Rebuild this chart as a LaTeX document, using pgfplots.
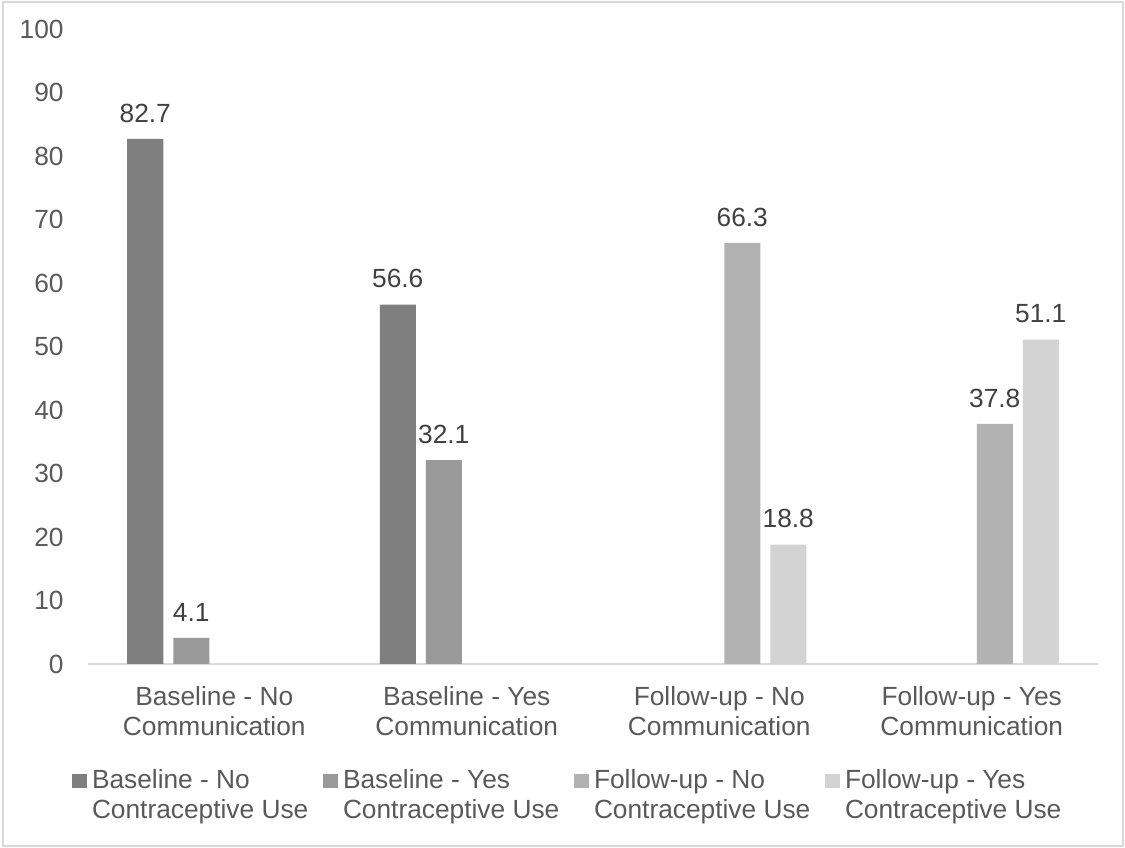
\documentclass[border=0pt]{standalone}
\usepackage{fontspec}
\setmainfont{Liberation Sans}
\usepackage{pgfplots}
\pgfplotsset{compat=1.18}
\definecolor{sA}{HTML}{7F7F7F}
\definecolor{sB}{HTML}{999999}
\definecolor{sC}{HTML}{B2B2B2}
\definecolor{sD}{HTML}{D3D3D3}
\definecolor{framegray}{HTML}{D9D9D9}
\definecolor{ticktext}{HTML}{595959}
\definecolor{labeltext}{HTML}{404040}
\newcommand{\chfont}{\fontsize{13.15bp}{15bp}\selectfont}
\newcommand{\lgentry}[2]{\parbox[t]{115.5bp}{\raggedright #1\\#2}}
\pgfplotsset{sqlegend/.style={legend image code/.code={\fill[##1] (0bp,0.5bp) rectangle (7.5bp,7.5bp);}}}
\begin{document}
\begin{tikzpicture}
\useasboundingbox (0,0) rectangle (562.5bp,424bp);
\draw[color=framegray, line width=1bp] (1.25bp,1.25bp) rectangle (561.25bp,422.75bp);
\begin{axis}[
  at={(44bp,92bp)}, anchor=south west,
  scale only axis, width=505bp, height=317.5bp,
  xmin=-0.5, xmax=3.5, ymin=0, ymax=100,
  ybar=5bp, bar width=18bp,
  axis x line*=bottom, axis y line*=left,
  x axis line style={draw=framegray, line width=1bp, -},
  y axis line style={draw=none},
  xtick={0,1,2,3},
  xticklabels={{Baseline - No\\Communication},{Baseline - Yes\\Communication},{Follow-up - No\\Communication},{Follow-up - Yes\\Communication}},
  xtick style={draw=none}, ytick style={draw=none},
  ytick={0,10,...,100},
  tick label style={font=\chfont, text=ticktext},
  xticklabel style={align=center, anchor=north, inner sep=0pt, yshift=-7bp},
  yticklabel style={anchor=east, inner sep=0pt, xshift=-12bp},
  /pgf/number format/assume math mode=true,
  nodes near coords={\pgfmathprintnumber[fixed,fixed zerofill,precision=1]{\pgfplotspointmeta}},
  every node near coord/.append style={font=\chfont, text=labeltext, anchor=south, inner sep=0pt, yshift=8bp},
  legend columns=4,
  legend style={at={(axis description cs:-0.01584,-0.1666)}, anchor=north west,
    draw=none, fill=none, inner sep=0pt, outer sep=0pt,
    font=\chfont, text=ticktext,
    nodes={inner sep=0pt, outer sep=0pt, anchor=base west},
    /tikz/column sep=0pt,
    /tikz/every odd column/.append style={column sep=2.5bp},
    /tikz/every even column/.append style={column sep=0bp}},
]
\addplot[fill=sA, draw=none, sqlegend] coordinates {(0,82.7) (1,56.6)};
\addplot[fill=sB, draw=none, sqlegend] coordinates {(0,4.1) (1,32.1)};
\addplot[fill=sC, draw=none, sqlegend] coordinates {(2,66.3) (3,37.8)};
\addplot[fill=sD, draw=none, sqlegend] coordinates {(2,18.8) (3,51.1)};
\legend{\lgentry{Baseline - No}{Contraceptive Use},\lgentry{Baseline - Yes}{Contraceptive Use},\lgentry{Follow-up - No}{Contraceptive Use},\lgentry{Follow-up - Yes}{Contraceptive Use}}
\end{axis}
\end{tikzpicture}
\end{document}
